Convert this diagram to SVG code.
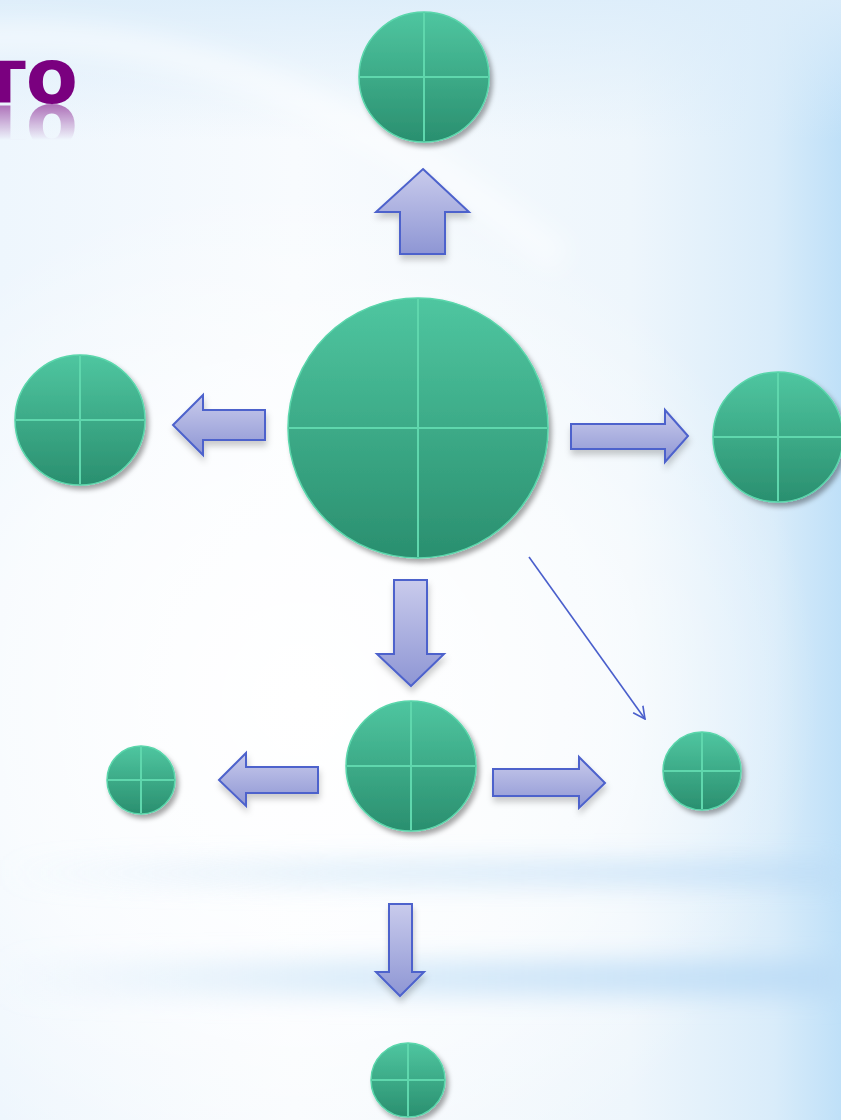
<svg xmlns="http://www.w3.org/2000/svg" width="841" height="1120" viewBox="0 0 841 1120">
<defs>
<linearGradient id="bgH" x1="0" y1="0" x2="1" y2="0">
<stop offset="0" stop-color="#eef6fd"/>
<stop offset="0.35" stop-color="#f8fbfe"/>
<stop offset="0.75" stop-color="#eef6fc"/>
<stop offset="0.92" stop-color="#d9ecfa"/>
<stop offset="1" stop-color="#bfe0f8"/>
</linearGradient>
<radialGradient id="glow" cx="300" cy="700" r="520" gradientUnits="userSpaceOnUse">
<stop offset="0" stop-color="#ffffff" stop-opacity="1"/>
<stop offset="0.6" stop-color="#ffffff" stop-opacity="0.6"/>
<stop offset="1" stop-color="#ffffff" stop-opacity="0"/>
</radialGradient>
<linearGradient id="topBand" x1="0" y1="0" x2="0" y2="1">
<stop offset="0" stop-color="#dcedfa" stop-opacity="0.9"/>
<stop offset="1" stop-color="#dcedfa" stop-opacity="0"/>
</linearGradient>
<linearGradient id="bandFade" x1="0" y1="0" x2="1" y2="0">
<stop offset="0" stop-color="#cfe6f8" stop-opacity="0"/>
<stop offset="0.4" stop-color="#cfe6f8" stop-opacity="0.7"/>
<stop offset="1" stop-color="#bcdcf6" stop-opacity="1"/>
</linearGradient>
<filter id="blur" x="-20%" y="-200%" width="140%" height="500%">
<feGaussianBlur stdDeviation="12"/>
</filter>
<linearGradient id="discFill" x1="0" y1="0" x2="0" y2="1">
<stop offset="0" stop-color="#4fc6a0"/>
<stop offset="1" stop-color="#2a8f6f"/>
</linearGradient>
<linearGradient id="arrowFill" x1="0" y1="0" x2="0" y2="1">
<stop offset="0" stop-color="#c9cbec"/>
<stop offset="1" stop-color="#8e96d4"/>
</linearGradient>
<filter id="shadow" x="-20%" y="-20%" width="150%" height="150%">
<feDropShadow dx="3" dy="4" stdDeviation="2.5" flood-color="#000" flood-opacity="0.35"/>
</filter>
<filter id="ashadow" x="-20%" y="-20%" width="150%" height="160%">
<feDropShadow dx="1" dy="5" stdDeviation="3" flood-color="#000" flood-opacity="0.2"/>
</filter>
<linearGradient id="reflFade" x1="0" y1="0" x2="0" y2="1">
<stop offset="0" stop-color="#fff" stop-opacity="0.55"/>
<stop offset="1" stop-color="#fff" stop-opacity="0"/>
</linearGradient>
<mask id="reflMask" maskUnits="userSpaceOnUse" x="0" y="100" width="120" height="50">
<rect x="0" y="104" width="120" height="36" fill="url(#reflFade)"/>
</mask>
<marker id="open" viewBox="0 0 14 14" refX="13" refY="7" markerWidth="14" markerHeight="14" markerUnits="userSpaceOnUse" orient="auto">
<path d="M1,1 L13,7 L1,13" fill="none" stroke="#4a5fcc" stroke-width="1.6"/>
</marker>
</defs>
<style>
.disc{fill:url(#discFill);stroke:#5ad6ab;stroke-width:1.5;}
.cross{stroke:#5fd7ad;stroke-width:2;fill:none;}
.node{filter:url(#shadow);}
.blk{fill:url(#arrowFill);stroke:#4d62cc;stroke-width:2;stroke-linejoin:miter;}
.title{font-family:"DejaVu Sans",Verdana,sans-serif;font-weight:bold;font-size:76px;fill:#7a007f;}
</style>

<!-- background -->
<rect x="0" y="0" width="841" height="1120" fill="url(#bgH)"/>
<rect x="0" y="0" width="841" height="1120" fill="url(#glow)"/>
<rect x="0" y="0" width="841" height="140" fill="url(#topBand)"/>
<path d="M-40,40 Q250,10 560,260" fill="none" stroke="#ffffff" stroke-width="30" stroke-opacity="0.5" filter="url(#blur)"/>
<rect x="0" y="860" width="841" height="26" fill="url(#bandFade)" filter="url(#blur)" opacity="0.8"/>
<rect x="0" y="960" width="841" height="36" fill="url(#bandFade)" filter="url(#blur)"/>

<!-- title -->
<g id="title">
<text class="title" x="78" y="103" text-anchor="end">то</text>
<g mask="url(#reflMask)">
<text class="title" x="78" y="103" text-anchor="end" transform="translate(0,208) scale(1,-1)">то</text>
</g>
</g>

<!-- connectors -->
<g id="connectors">
<g filter="url(#ashadow)">
<polygon class="blk" points="423,169 469,212 445,212 445,254 400,254 400,212 376,212"/>
<polygon class="blk" points="173,425 203,395 203,410 265,410 265,440 203,440 203,455"/>
<polygon class="blk" points="688,436 665,410 665,424 571,424 571,449 665,449 665,462"/>
<polygon class="blk" points="411,686 444,654 427,654 427,580 394,580 394,654 377,654"/>
<polygon class="blk" points="219,780 246,753 246,767 318,767 318,793 246,793 246,806"/>
<polygon class="blk" points="605,783 579,757 579,769 493,769 493,796 579,796 579,808"/>
<polygon class="blk" points="400,996 424,972 412,972 412,904 389,904 389,972 376,972"/>
</g>
<line x1="529" y1="557" x2="645" y2="719" stroke="#4a5fcc" stroke-width="1.6" marker-end="url(#open)"/>
</g>

<!-- nodes -->
<g id="node-center" class="node">
<circle class="disc" cx="418" cy="428" r="130"/>
<path class="cross" d="M418,299 V557 M289,428 H547"/>
</g>
<g id="node-top" class="node">
<circle class="disc" cx="424" cy="77" r="65"/>
<path class="cross" d="M424,13 V141 M360,77 H488"/>
</g>
<g id="node-left" class="node">
<circle class="disc" cx="80" cy="420" r="65"/>
<path class="cross" d="M80,356 V484 M16,420 H144"/>
</g>
<g id="node-right" class="node">
<circle class="disc" cx="778" cy="437" r="65"/>
<path class="cross" d="M778,373 V501 M714,437 H842"/>
</g>
<g id="node-middle" class="node">
<circle class="disc" cx="411" cy="766" r="65"/>
<path class="cross" d="M411,702 V830 M347,766 H475"/>
</g>
<g id="node-small-left" class="node">
<circle class="disc" cx="141" cy="780" r="34"/>
<path class="cross" d="M141,747 V813 M108,780 H174"/>
</g>
<g id="node-small-right" class="node">
<circle class="disc" cx="702" cy="771" r="39"/>
<path class="cross" d="M702,733 V809 M664,771 H740"/>
</g>
<g id="node-bottom" class="node">
<circle class="disc" cx="408" cy="1080" r="37"/>
<path class="cross" d="M408,1044 V1116 M372,1080 H444"/>
</g>
</svg>
